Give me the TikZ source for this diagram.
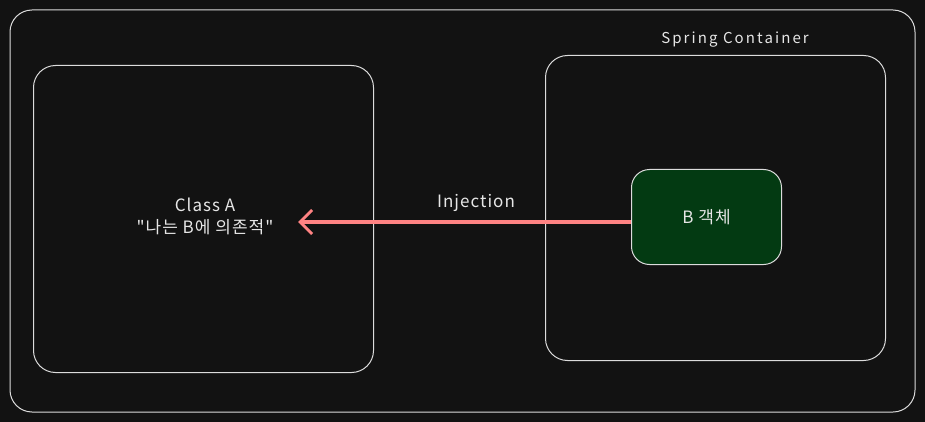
\documentclass[tikz,border=0pt]{standalone}
\usepackage{fontspec}
\newfontfamily\kr[LetterSpace=6]{Noto Sans CJK KR}
\newfontfamily\krwide[LetterSpace=14]{Noto Sans CJK KR}
\usetikzlibrary{arrows.meta}
\definecolor{bg}{HTML}{121212}
\definecolor{strk}{HTML}{DCDCDC}
\definecolor{gfill}{HTML}{033A12}
\definecolor{arr}{HTML}{FF8383}
\definecolor{txt}{HTML}{E6E6E6}
\tikzset{
  frame/.style={draw=strk, line width=1pt, rounded corners=22pt},
  lbl/.style={text=txt, font=\kr\fontsize{17}{22}\selectfont, align=center, inner sep=0pt},
  conn/.style={draw=arr, line width=3.5pt, -{Straight Barb[length=12pt,width=24pt,line width=3pt]}}
}
\begin{document}
\begin{tikzpicture}[x=1pt,y=-1pt]
\fill[bg] (0,0) rectangle (925,422);
\useasboundingbox (0,0) rectangle (925,422);
\draw[frame] (10,10) rectangle (915,412);
\node[frame, minimum width=340pt, minimum height=307pt, inner sep=0pt, anchor=north west] (a) at (33,65) {};
\node[frame, minimum width=340pt, minimum height=305pt, inner sep=0pt, anchor=north west] (c) at (545,55) {};
\node[frame, fill=gfill, rounded corners=18pt, minimum width=150pt, minimum height=95pt, inner sep=0pt, anchor=north west, lbl] (b) at (631,169) {B 객체};
\node[lbl] (atext) at (205,216) {Class A\\"나는 B에 의존적"};
\node[lbl, font=\krwide\fontsize{15}{18}\selectfont] (ctitle) at (735,40) {Spring Container};
\coordinate (tip) at (298,222);
\draw[conn] (b.west |- tip) -- (tip);
\node[lbl] (inj) at (476,203) {Injection};
\end{tikzpicture}
\end{document}
